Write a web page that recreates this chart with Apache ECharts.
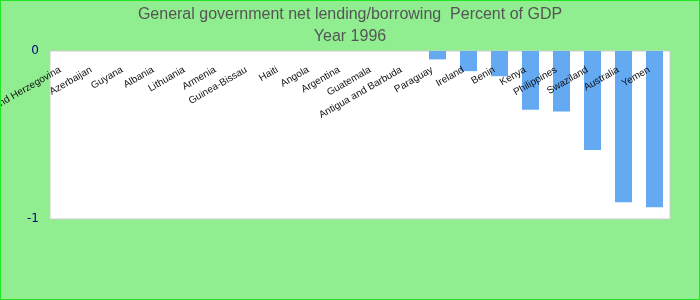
<!DOCTYPE html>
<html>
<head>
<meta charset="utf-8">
<script src="https://cdn.jsdelivr.net/npm/echarts@6/dist/echarts.min.js"></script>
<style>
html,body{margin:0;padding:0;background:#90ee90;}
#c{width:698px;height:298px;border:1px solid #22e622;}
</style>
</head>
<body>
<div id="c"></div>
<script>
const categories = ["Bosnia and Herzegovina","Azerbaijan","Guyana","Albania","Lithuania","Armenia","Guinea-Bissau","Haiti","Angola","Argentina","Guatemala","Antigua and Barbuda","Paraguay","Ireland","Benin","Kenya","Philippines","Swaziland","Australia","Yemen"];
const values = [0,0,0,0,0,0,0,0,0,0,0,0,-0.05,-0.12,-0.15,-0.35,-0.36,-0.59,-0.90,-0.93];
const yTicks = [-1, 0];

const chart = echarts.init(document.getElementById('c'));
chart.setOption({
  backgroundColor: '#90ee90',
  animation: false,
  title: {
    text: 'General government net lending/borrowing  Percent of GDP\nYear 1996',
    left: 'center',
    top: 3,
    padding: 0,
    textStyle: {fontFamily: 'Liberation Sans, Arial', fontSize: 16, fontWeight: 'normal', color: '#555', lineHeight: 22}
  },
  grid: {left: 49, right: 29, top: 50, bottom: 80, show: true, backgroundColor: '#fff', borderColor: '#ccc', borderWidth: 1, containLabel: false, outerBoundsMode: 'none'},
  xAxis: {
    type: 'category',
    data: categories,
    position: 'top',
    z: 5,
    axisLine: {show: false},
    axisTick: {show: false},
    axisLabel: {interval: 0, rotate: 30, inside: true, fontSize: 10, color: '#111', fontFamily: 'Liberation Sans, Arial', margin: 15, padding: [0, 6, 0, 0]}
  },
  yAxis: {
    type: 'value',
    min: yTicks[0],
    max: yTicks[1],
    interval: 1,
    axisLine: {show: false},
    axisTick: {show: false},
    splitLine: {show: false},
    axisLabel: {color: '#000080', fontSize: 12, fontFamily: 'DejaVu Sans', margin: 11}
  },
  series: [{
    type: 'bar',
    data: values,
    barWidth: '55%',
    itemStyle: {color: '#63aaf3'}
  }]
});
</script>
</body>
</html>
